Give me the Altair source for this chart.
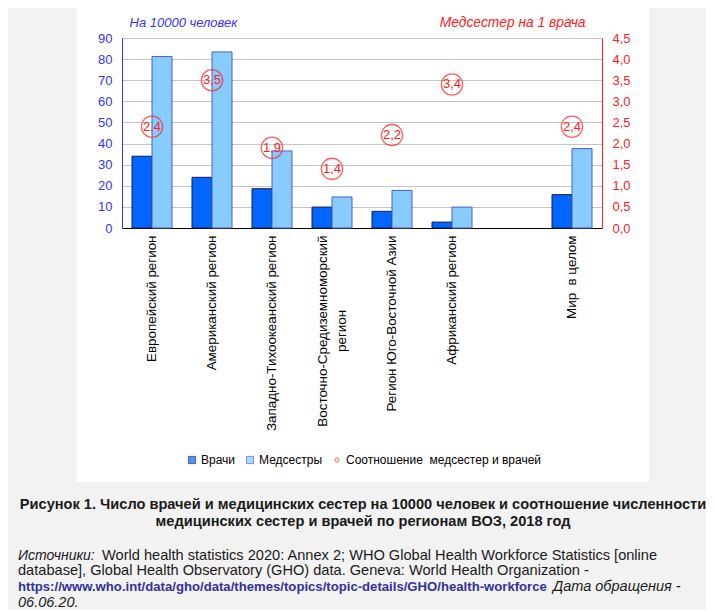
import altair as alt
import pandas as pd

FONT = "Liberation Sans"
BLUE = "#3333ff"
RED = "#ff2020"

# ---------------- data ----------------
categories = [
    "Европейский регион",
    "Американский регион",
    "Западно-Тихоокеанский регион",
    "Восточно-Средиземноморский\nрегион",
    "Регион Юго-Восточной Азии",
    "Африканский регион",
    " ",
    "Мир\u00a0 в целом",
]
regions = [c for c in categories if c.strip()]
doctors = [34.0, 24.0, 18.6, 9.9, 7.9, 2.8, 15.8]
nurses = [81.2, 83.4, 36.5, 14.7, 17.8, 9.9, 37.6]
ratio = [2.4, 3.5, 1.9, 1.4, 2.2, 3.4, 2.4]
series_names = ["Врачи", "Медсестры", "Соотношение\u00a0 медсестер и врачей"]
left_ticks = [0, 10, 20, 30, 40, 50, 60, 70, 80, 90]
right_ticks = [0, 0.5, 1.0, 1.5, 2.0, 2.5, 3.0, 3.5, 4.0, 4.5]
left_title = "На 10000 человек"
right_title = "Медсестер на 1 врача"
caption_title = [
    "Рисунок 1. Число врачей и медицинских сестер на 10000 человек и соотношение численности",
    "медицинских сестер и врачей по регионам ВОЗ, 2018 год",
]
src_label = "Источники:"
src_line1 = "World health statistics 2020: Annex 2; WHO Global Health Workforce Statistics [online"
src_line2 = "database], Global Health Observatory (GHO) data. Geneva: World Health Organization -"
src_url = "https://www.who.int/data/gho/data/themes/topics/topic-details/GHO/health-workforce"
src_date_label = "Дата обращения -"
src_date = "06.06.20."

bar_rows = []
for r, d, n in zip(regions, doctors, nurses):
    bar_rows.append({"region": r, "series": series_names[0], "value": d})
    bar_rows.append({"region": r, "series": series_names[1], "value": n})
bar_df = pd.DataFrame(bar_rows)
ratio_df = pd.DataFrame({"region": regions, "ratio": ratio})

# ---------------- scales / axes ----------------
circle_path = "M-0.55,0A0.55,0.55,0,1,1,0.55,0A0.55,0.55,0,1,1,-0.55,0Z"
fill_scale = alt.Scale(domain=series_names, range=["#0066ff", "#88ccff", "transparent"])
stroke_scale = alt.Scale(domain=series_names, range=["#1a1a4d", "#4a5fc1", "#ff0000"])
shape_scale = alt.Scale(domain=series_names, range=["square", "square", circle_path])
x_scale = alt.Scale(domain=categories, paddingInner=1 / 3, paddingOuter=1 / 6)

pad = "\u00a0" * 20 + "\u200b"
label_expr = (
    "indexof(datum.label, '\\n') >= 0 ? "
    "[split(datum.label, '\\n')[0], split(datum.label, '\\n')[1] + '" + pad + "'] : datum.label"
)
xaxis = alt.Axis(
    title=None, labelAngle=270, labelAlign="right", labelBaseline="middle",
    labelPadding=7, ticks=False, domainColor="#000000", domainWidth=1,
    labelFont=FONT, labelFontSize=13.4, labelColor="#000000", labelLineHeight=19,
    labelOffset={"condition": {"test": "indexof(datum.value, '\\n') >= 0", "value": -9.5}, "value": 0},
    labelExpr=label_expr, labelLimit=400, labelOverlap=False, grid=False,
)
yleft = alt.Axis(
    title=left_title, values=left_ticks, orient="left", ticks=False, labelPadding=10,
    labelColor=BLUE, labelFont=FONT, labelFontSize=13, domainColor=BLUE, domainWidth=1,
    grid=True, gridColor="#c4c4c4", gridWidth=1,
    titleAngle=0, titleAlign="left", titleBaseline="middle", titleX=7, titleY=-16,
    titleColor=BLUE, titleFont=FONT, titleFontSize=13, titleFontStyle="italic",
    titleFontWeight="normal",
)
yright = alt.Axis(
    title=right_title, values=right_ticks, orient="right", ticks=False, labelPadding=10,
    labelColor=RED, labelFont=FONT, labelFontSize=13, domainColor=RED, domainWidth=1,
    grid=False, labelExpr="replace(format(datum.value, '.1f'), '.', ',')",
    titleAngle=0, titleAlign="right", titleBaseline="middle", titleX=-17, titleY=-16,
    titleColor=RED, titleFont=FONT, titleFontSize=13.8, titleFontStyle="italic",
    titleFontWeight="normal",
)

# ---------------- layers ----------------
def deco_rect(x1, x2, y1, y2):
    return alt.Chart(alt.Data(values=[{"k": 1}])).mark_rect(color="#f2f2f2").encode(
        x=alt.value(x1), x2=alt.value(x2), y=alt.value(y1), y2=alt.value(y2)
    )


def caption(txt, x, y, align="left", color="#1a1a1a", size=14.6, **style):
    return alt.Chart(alt.Data(values=[{"t": txt}])).mark_text(
        align=align, baseline="middle", font=FONT, fontSize=size, color=color, **style
    ).encode(text="t:N", x=alt.value(x), y=alt.value(y))


leg = alt.Legend(
    title=None, orient="none", legendX=64, legendY=416, direction="horizontal",
    labelFont=FONT, labelFontSize=12, labelColor="#000000", symbolSize=52,
    symbolStrokeWidth=1, labelOffset=3, columnPadding=8, labelLimit=300,
)

bars = alt.Chart(bar_df).mark_bar(strokeWidth=1).encode(
    x=alt.X("region:N", scale=x_scale, axis=xaxis),
    xOffset=alt.XOffset("series:N", scale=alt.Scale(domain=series_names[:2])),
    y=alt.Y("value:Q", scale=alt.Scale(domain=[0, 90], nice=False), axis=yleft),
    fill=alt.Fill("series:N", scale=fill_scale, legend=leg),
    stroke=alt.Stroke("series:N", scale=stroke_scale, legend=leg),
)

base = alt.Chart(ratio_df).encode(
    x=alt.X("region:N", scale=x_scale, axis=xaxis),
    y=alt.Y("ratio:Q", scale=alt.Scale(domain=[0, 4.5], nice=False), axis=yright),
)
circles = base.mark_point(shape="circle", size=452, filled=False, stroke=RED, strokeWidth=1.3)
circle_text = base.mark_text(color=RED, font=FONT, fontSize=13, baseline="middle").encode(
    text="lbl:N"
).transform_calculate(lbl="replace(format(datum.ratio, '.1f'), '.', ',')")
ratio_layer = alt.layer(circles, circle_text)

legend_layer = alt.Chart(alt.Data(values=[{"series": s} for s in series_names])).transform_filter(
    "false"
).mark_point(filled=True).encode(
    fill=alt.Fill("series:N", scale=fill_scale, legend=leg),
    stroke=alt.Stroke("series:N", scale=stroke_scale, legend=leg),
    shape=alt.Shape("series:N", scale=shape_scale, legend=leg),
)

layers = [
    deco_rect(-114, -45, -30, 444),
    deco_rect(527, 590, -30, 444),
    deco_rect(-114, 590, 444, 580),
    bars,
    ratio_layer,
    legend_layer,
    caption(caption_title[0], 241, 467, align="center", fontWeight="bold"),
    caption(caption_title[1], 241, 484, align="center", fontWeight="bold"),
    caption(src_label, -104, 518, size=14, fontStyle="italic"),
    caption(src_line1, -20, 518),
    caption(src_line2, -104, 533),
    caption(src_url, -104, 549, size=13.15, fontWeight="bold", color="#333399"),
    caption(src_date_label, 431, 549, size=14.5, fontStyle="italic"),
    caption(src_date, -104, 565, size=14.5, fontStyle="italic"),
]

chart = alt.layer(*layers).resolve_scale(y="independent").properties(
    width=480,
    height=190,
    padding={"left": 114, "top": 30, "right": 104, "bottom": 382},
    autosize=alt.AutoSizeParams(type="none"),
    background="white",
).configure_view(stroke="#8c8c8c", strokeWidth=1)

chart.save("out.html", embed_options={"renderer": "svg", "actions": False})
